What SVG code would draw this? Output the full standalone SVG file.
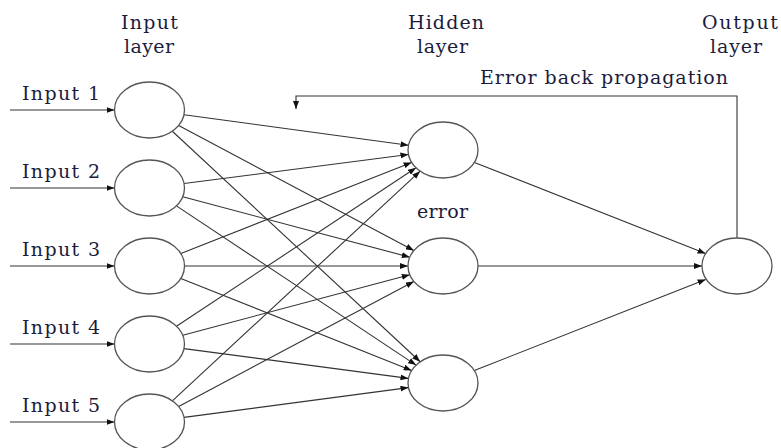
<svg xmlns="http://www.w3.org/2000/svg" width="781" height="448" viewBox="0 0 781 448">
<style>
.t{font-family:'DejaVu Serif','Liberation Serif',serif;font-size:19px;fill:#1c1c3c}
.n{fill:#fff;stroke:#555;stroke-width:1.3}
.c{stroke:#333;stroke-width:1.1;fill:none;marker-end:url(#a)}
</style>
<defs>
<marker id="a" markerWidth="8" markerHeight="6" refX="8" refY="3" orient="auto" markerUnits="userSpaceOnUse"><path d="M0,0 L8,3 L0,6 Z" fill="#111"/></marker>
</defs>
<rect width="781" height="448" fill="#fff"/>
<g id="labels" class="t">
<text x="121" y="29" textLength="57">Input</text>
<text x="124" y="53" textLength="50">layer</text>
<text x="408" y="29" textLength="76">Hidden</text>
<text x="417" y="53" textLength="51">layer</text>
<text x="702" y="29" textLength="76">Output</text>
<text x="710" y="53" textLength="52">layer</text>
<text x="480" y="84" textLength="248">Error back propagation</text>
<text x="417" y="218" textLength="51">error</text>
<text x="22" y="100" textLength="78">Input 1</text>
<text x="22" y="178" textLength="78">Input 2</text>
<text x="22" y="256" textLength="78">Input 3</text>
<text x="22" y="334" textLength="78">Input 4</text>
<text x="22" y="412" textLength="78">Input 5</text>
</g>
<g id="connectors">
<line class="c" x1="10" y1="110" x2="114.5" y2="110"/>
<line class="c" x1="10" y1="188" x2="114.5" y2="188"/>
<line class="c" x1="10" y1="266" x2="114.5" y2="266"/>
<line class="c" x1="10" y1="344" x2="114.5" y2="344"/>
<line class="c" x1="10" y1="422" x2="114.5" y2="422"/>
<line class="c" x1="184" y1="114.7" x2="408.5" y2="145.3"/>
<line class="c" x1="184.05" y1="183.53" x2="408.45" y2="154.47"/>
<line class="c" x1="180.88" y1="253.6" x2="411.62" y2="162.4"/>
<line class="c" x1="176.48" y1="326.17" x2="416.02" y2="167.83"/>
<line class="c" x1="172.37" y1="400.81" x2="420.13" y2="171.19"/>
<line class="c" x1="178.65" y1="125.5" x2="413.85" y2="250.5"/>
<line class="c" x1="182.72" y1="196.83" x2="409.78" y2="257.17"/>
<line class="c" x1="184.5" y1="266" x2="408" y2="266"/>
<line class="c" x1="182.72" y1="335.17" x2="409.78" y2="274.83"/>
<line class="c" x1="178.65" y1="406.5" x2="413.85" y2="281.5"/>
<line class="c" x1="172.32" y1="131.23" x2="420.18" y2="361.77"/>
<line class="c" x1="176.43" y1="205.89" x2="416.07" y2="365.11"/>
<line class="c" x1="180.83" y1="278.49" x2="411.67" y2="370.51"/>
<line class="c" x1="184.03" y1="348.59" x2="408.47" y2="378.41"/>
<line class="c" x1="184.03" y1="417.41" x2="408.47" y2="387.59"/>
<line class="c" x1="474.39" y1="162.39" x2="705.61" y2="253.61"/>
<line class="c" x1="478" y1="266" x2="702" y2="266"/>
<line class="c" x1="474.34" y1="370.53" x2="705.66" y2="279.47"/>
<path class="c" d="M737,238 V96 H296 V109"/>
</g>
<g id="in1"><ellipse class="n" cx="149.5" cy="110" rx="35" ry="28"/></g>
<g id="in2"><ellipse class="n" cx="149.5" cy="188" rx="35" ry="28"/></g>
<g id="in3"><ellipse class="n" cx="149.5" cy="266" rx="35" ry="28"/></g>
<g id="in4"><ellipse class="n" cx="149.5" cy="344" rx="35" ry="28"/></g>
<g id="in5"><ellipse class="n" cx="149.5" cy="422" rx="35" ry="28"/></g>
<g id="h1"><ellipse class="n" cx="443" cy="150" rx="35" ry="28"/></g>
<g id="h2"><ellipse class="n" cx="443" cy="266" rx="35" ry="28"/></g>
<g id="h3"><ellipse class="n" cx="443" cy="383" rx="35" ry="28"/></g>
<g id="out"><ellipse class="n" cx="737" cy="266" rx="35" ry="28"/></g>
</svg>
